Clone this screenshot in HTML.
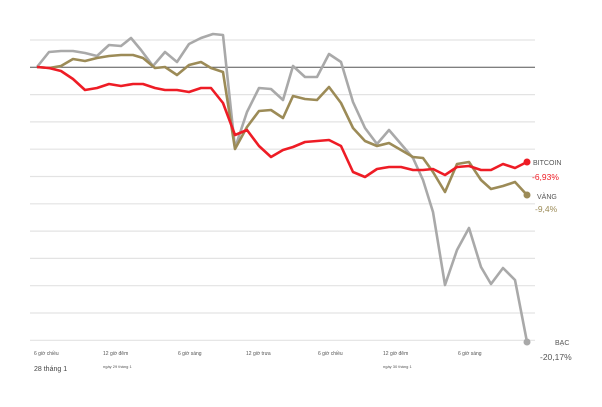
<!DOCTYPE html>
<html><head><meta charset="utf-8"><style>
body{margin:0;background:#fff;width:602px;height:402px;overflow:hidden;font-family:"Liberation Sans","Noto Sans CJK SC",sans-serif}
</style></head><body>
<svg width="602" height="402" xmlns="http://www.w3.org/2000/svg" font-family="Liberation Sans, sans-serif">
<g stroke="#e3e3e3" stroke-width="1.2">
<line x1="30" x2="535" y1="40" y2="40"/><line x1="30" x2="535" y1="94.6" y2="94.6"/><line x1="30" x2="535" y1="121.9" y2="121.9"/><line x1="30" x2="535" y1="149.2" y2="149.2"/><line x1="30" x2="535" y1="176.5" y2="176.5"/><line x1="30" x2="535" y1="203.8" y2="203.8"/><line x1="30" x2="535" y1="231.1" y2="231.1"/><line x1="30" x2="535" y1="258.4" y2="258.4"/><line x1="30" x2="535" y1="285.7" y2="285.7"/><line x1="30" x2="535" y1="313" y2="313"/><line x1="30" x2="535" y1="340.3" y2="340.3"/>
</g>
<line x1="30" x2="535" y1="67.3" y2="67.3" stroke="#555" stroke-width="1"/>
<g fill="none" stroke-width="2.6" stroke-linejoin="round">
<polyline stroke="#a9a9a9" points="37,67 49,52 61,51 73,51 85,53 97,56 109,45 121,46 131,38 141,50 153,66 165,52 177,62 189,44 201,38 213,34 223,35 235,148 247,112 259,88 271,89 283,100 293,66 305,77 317,77 329,54 341,62 353,102 365,128 377,144 389,130 401,144 413,158 423,180 433,212 445,285 457,250 469,228 481,267 491,284 503,268 515,280 527,342"/>
<polyline stroke="#9c8b57" points="37,67 49,68 61,66 73,59 85,61 97,58 109,56 121,55 133,55 143,58 155,68 165,67 177,75 189,65 201,62 211,68 223,72 235,149 247,127 259,111 271,110 283,118 293,96 305,99 317,100 329,87 341,103 353,128 365,141 377,146 389,143 401,150 413,157 423,158 433,172 445,192 457,164 469,162 481,180 491,189 503,186 515,182 527,195"/>
<polyline stroke="#ee1c25" points="37,67 49,68 61,71 73,79 85,90 97,88 109,84 121,86 133,84 143,84 155,88 165,90 177,90 189,92 201,88 211,88 223,103 235,135 247,130 259,146 271,157 283,150 293,147 305,142 317,141 329,140 341,146 353,172 365,177 377,169 389,167 401,167 413,170 423,170 433,169 445,175 457,167 469,166 481,170 491,170 503,164 515,168 527,162"/>
</g>
<circle cx="527" cy="162" r="3.5" fill="#ee1c25"/>
<circle cx="527" cy="195" r="3.5" fill="#9c8b57"/>
<circle cx="527" cy="342" r="3.5" fill="#a9a9a9"/>
<text x="533" y="165" font-size="7" fill="#555">BITCOIN</text>
<text x="532" y="180" font-size="8.5" fill="#ee1c25">-6,93%</text>
<text x="537" y="199" font-size="7" fill="#555">VÀNG</text>
<text x="535" y="212" font-size="8.5" fill="#9c8b57">-9,4%</text>
<text x="555" y="345" font-size="7" fill="#555">BẠC</text>
<text x="540" y="360" font-size="8.5" fill="#555">-20,17%</text>
<g font-size="5" fill="#555">
<text x="34" y="355">6 giờ chiều</text>
<text x="103" y="355">12 giờ đêm</text>
<text x="178" y="355">6 giờ sáng</text>
<text x="246" y="355">12 giờ trưa</text>
<text x="318" y="355">6 giờ chiều</text>
<text x="383" y="355">12 giờ đêm</text>
<text x="458" y="355">6 giờ sáng</text>
<text x="103" y="368" font-size="4">ngày 29 tháng 1</text>
<text x="383" y="368" font-size="4">ngày 30 tháng 1</text>
</g>
<text x="34" y="371" font-size="7" fill="#444">28 tháng 1</text>
</svg>
</body></html>
